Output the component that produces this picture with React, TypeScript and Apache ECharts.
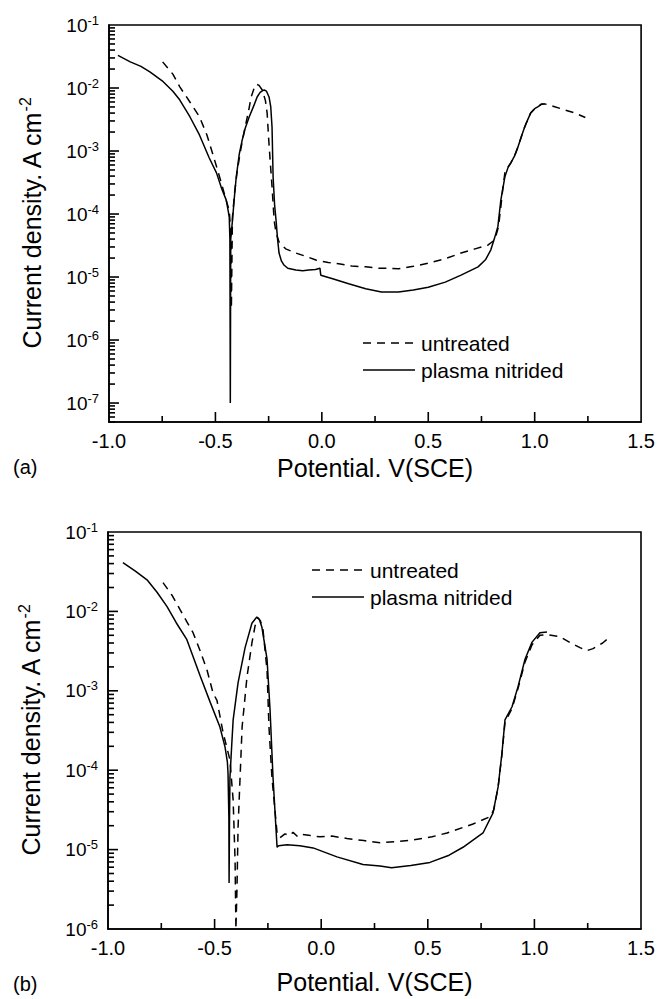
import React, { useEffect, useRef } from "react";
import * as echarts from "echarts";

// ---------- Panel (a) ----------
const aUntreatedE = [-0.748, -0.70, -0.668, -0.62, -0.575, -0.54, -0.514, -0.49, -0.467, -0.45, -0.435, -0.428, -0.425, -0.422, -0.42, -0.41, -0.397, -0.38, -0.364, -0.345, -0.332, -0.318, -0.308, -0.295, -0.28, -0.265, -0.257, -0.25, -0.243, -0.234, -0.224, -0.215, -0.201, -0.17, -0.122, -0.07, -0.028, 0.03, 0.079, 0.14, 0.206, 0.266, 0.30, 0.36, 0.43, 0.5, 0.58, 0.654, 0.72, 0.78, 0.813, 0.83, 0.841, 0.85, 0.86, 0.875, 0.888, 0.905, 0.921, 0.94, 0.953, 0.97, 0.981, 1.0, 1.014, 1.03, 1.047, 1.09, 1.14, 1.19, 1.238];
const aUntreatedI = [2.6e-2, 1.66e-2, 1.05e-2, 6.0e-3, 3.5e-3, 1.8e-3, 9.3e-4, 5.0e-4, 2.7e-4, 1.66e-4, 1.15e-4, 5.0e-5, 3.2e-6, 2.5e-5, 8.9e-5, 2.2e-4, 5.0e-4, 1.1e-3, 2.1e-3, 4.2e-3, 7.2e-3, 1.0e-2, 1.15e-2, 1.1e-2, 9.3e-3, 6.3e-3, 4.0e-3, 1.6e-3, 7.2e-4, 2.7e-4, 7.9e-5, 5.0e-5, 3.6e-5, 2.8e-5, 2.4e-5, 2.1e-5, 1.86e-5, 1.7e-5, 1.62e-5, 1.5e-5, 1.45e-5, 1.38e-5, 1.38e-5, 1.35e-5, 1.48e-5, 1.66e-5, 1.95e-5, 2.4e-5, 2.8e-5, 3.2e-5, 3.9e-5, 6.3e-5, 1.3e-4, 2.5e-4, 4.5e-4, 5.6e-4, 6.5e-4, 8.3e-4, 1.15e-3, 1.8e-3, 2.4e-3, 3.3e-3, 4.0e-3, 4.7e-3, 5.0e-3, 5.5e-3, 5.6e-3, 5.1e-3, 4.5e-3, 4.0e-3, 3.4e-3];

const aNitridedE = [-0.958, -0.9, -0.85, -0.808, -0.75, -0.7, -0.668, -0.62, -0.575, -0.53, -0.495, -0.47, -0.449, -0.44, -0.435, -0.432, -0.43, -0.428, -0.42, -0.41, -0.402, -0.388, -0.374, -0.36, -0.341, -0.32, -0.304, -0.29, -0.278, -0.271, -0.26, -0.248, -0.24, -0.234, -0.229, -0.222, -0.215, -0.208, -0.201, -0.19, -0.178, -0.16, -0.122, -0.09, -0.061, -0.03, -0.009, -0.005, 0.047, 0.126, 0.206, 0.28, 0.36, 0.43, 0.5, 0.58, 0.654, 0.734, 0.77, 0.794, 0.81, 0.827, 0.841, 0.86, 0.875, 0.888, 0.905, 0.921, 0.94, 0.953, 0.97, 0.981, 1.0, 1.014, 1.03, 1.047];
const aNitridedI = [3.3e-2, 2.6e-2, 2.2e-2, 1.8e-2, 1.3e-2, 8.9e-3, 6.5e-3, 3.5e-3, 1.8e-3, 7.9e-4, 4.5e-4, 2.5e-4, 1.66e-4, 1.12e-4, 8.9e-5, 4.0e-5, 1.0e-7, 4.0e-5, 7.9e-5, 2.0e-4, 3.9e-4, 8.9e-4, 1.5e-3, 2.3e-3, 3.5e-3, 5.2e-3, 7.2e-3, 8.5e-3, 9.1e-3, 9.3e-3, 8.9e-3, 7.2e-3, 5.0e-3, 2.4e-3, 3.9e-4, 1.4e-4, 7.9e-5, 4.0e-5, 2.4e-5, 1.8e-5, 1.55e-5, 1.38e-5, 1.29e-5, 1.26e-5, 1.29e-5, 1.32e-5, 1.38e-5, 1.07e-5, 9.5e-6, 7.8e-6, 6.5e-6, 5.8e-6, 5.8e-6, 6.2e-6, 6.9e-6, 8.3e-6, 1.07e-5, 1.45e-5, 1.9e-5, 2.7e-5, 4.0e-5, 6.3e-5, 1.66e-4, 3.9e-4, 5.5e-4, 6.5e-4, 8.3e-4, 1.15e-3, 1.8e-3, 2.4e-3, 3.3e-3, 4.0e-3, 4.7e-3, 5.0e-3, 5.5e-3, 5.6e-3];

// ---------- Panel (b) ----------
const bUntreatedE = [-0.742, -0.70, -0.662, -0.63, -0.601, -0.568, -0.535, -0.507, -0.489, -0.46, -0.428, -0.413, -0.404, -0.40, -0.395, -0.39, -0.371, -0.348, -0.325, -0.31, -0.297, -0.285, -0.273, -0.254, -0.245, -0.231, -0.207, -0.193, -0.17, -0.15, -0.132, -0.11, -0.09, -0.05, -0.006, 0.05, 0.121, 0.2, 0.276, 0.35, 0.431, 0.52, 0.59, 0.712, 0.792, 0.81, 0.83, 0.848, 0.862, 0.895, 0.923, 0.956, 0.989, 1.026, 1.06, 1.12, 1.17, 1.214, 1.245, 1.275, 1.32, 1.355];
const bUntreatedI = [2.3e-2, 1.6e-2, 1.05e-2, 7.4e-3, 5.4e-3, 3.2e-3, 1.8e-3, 9.3e-4, 7.6e-4, 2.95e-4, 1.35e-4, 4.2e-5, 7.4e-6, 1.0e-6, 3.2e-6, 1.9e-5, 3.5e-4, 1.5e-3, 4.0e-3, 6.6e-3, 8.3e-3, 7.6e-3, 5.9e-3, 1.8e-3, 3.5e-4, 8.1e-5, 1.62e-5, 1.41e-5, 1.58e-5, 1.5e-5, 1.65e-5, 1.45e-5, 1.55e-5, 1.5e-5, 1.45e-5, 1.48e-5, 1.38e-5, 1.3e-5, 1.22e-5, 1.26e-5, 1.32e-5, 1.45e-5, 1.62e-5, 2.1e-5, 2.6e-5, 3.2e-5, 6.2e-5, 1.6e-4, 4.0e-4, 6.0e-4, 1.07e-3, 2.3e-3, 3.8e-3, 5.0e-3, 5.1e-3, 4.8e-3, 4.0e-3, 3.5e-3, 3.2e-3, 3.4e-3, 4.0e-3, 4.8e-3];

const bNitridedE = [-0.93, -0.87, -0.817, -0.77, -0.723, -0.68, -0.63, -0.568, -0.52, -0.475, -0.451, -0.44, -0.437, -0.433, -0.432, -0.43, -0.428, -0.42, -0.413, -0.39, -0.357, -0.325, -0.302, -0.29, -0.278, -0.254, -0.24, -0.226, -0.207, -0.2, -0.16, -0.1, -0.038, 0.074, 0.196, 0.276, 0.33, 0.42, 0.51, 0.6, 0.665, 0.759, 0.806, 0.83, 0.848, 0.862, 0.895, 0.923, 0.956, 0.989, 1.026, 1.059];
const bNitridedI = [4.1e-2, 3.2e-2, 2.5e-2, 1.74e-2, 1.15e-2, 7.2e-3, 4.4e-3, 1.55e-3, 7.1e-4, 3.5e-4, 1.95e-4, 1.26e-4, 9.1e-5, 2.5e-5, 3.8e-6, 2.5e-5, 8.1e-5, 2.0e-4, 4.3e-4, 1.26e-3, 3.5e-3, 7.1e-3, 8.5e-3, 7.9e-3, 6.3e-3, 2.5e-3, 5.8e-4, 8.1e-5, 1.07e-5, 1.12e-5, 1.15e-5, 1.12e-5, 1.05e-5, 8.1e-6, 6.5e-6, 6.2e-6, 5.9e-6, 6.3e-6, 6.9e-6, 8.5e-6, 1.07e-5, 1.62e-5, 2.9e-5, 6.2e-5, 1.66e-4, 4.3e-4, 6.3e-4, 1.12e-3, 2.5e-3, 4.1e-3, 5.4e-3, 5.5e-3];

// ---------- Axes / ticks ----------
const aYMin = 5e-8;
const aYMax = 1e-1;
const bYMin = 1e-6;
const bYMax = 1e-1;
const aDecades = [1e-7, 1e-6, 1e-5, 1e-4, 1e-3, 1e-2, 1e-1];
const bDecades = [1e-6, 1e-5, 1e-4, 1e-3, 1e-2, 1e-1];
const minorMultipliers = [2, 3, 4, 5, 6, 7, 8, 9];
const xMin = -1.0;
const xMax = 1.5;
const xInterval = 0.5;
const xMajorTicks = [-0.5, 0.0, 0.5, 1.0];
const xMinorTicks = [-0.75, -0.25, 0.25, 0.75, 1.25];

const legendUntreated = "untreated";
const legendNitrided = "plasma nitrided";
const xTitle = "Potential. V(SCE)";
const yTitle = "Current density. A cm{s|-2}";

const FONT = "'Liberation Sans', Arial, Helvetica, sans-serif";
const BLACK = "#000";
const PANEL_H = 507;
const MAJOR_LEN = 10;
const MINOR_LEN = 6;

function minorTicks(decades: number[], lo: number, hi: number) {
  const out: number[] = [];
  const all = [decades[0] / 10, ...decades];
  for (const d of all) {
    for (const m of minorMultipliers) {
      const v = d * m;
      if (v >= lo && v <= hi) out.push(v);
    }
  }
  return out;
}

function pairs(e: number[], i: number[]) {
  return e.map((x, k) => [x, i[k]]);
}

function yLabelFormatter(v: number) {
  const exp = Math.round(Math.log10(v));
  return `{b|10}{s|${exp}}`;
}

const yRich = {
  b: { fontSize: 19, fontFamily: FONT, color: BLACK },
  s: { fontSize: 13, fontFamily: FONT, color: BLACK, padding: [0, 0, 10, 0] },
};

function makeX(nameGap: number) {
  return {
    type: "value",
    min: xMin,
    max: xMax,
    interval: xInterval,
    axisLine: { show: true, onZero: false, lineStyle: { color: BLACK, width: 1.6 } },
    axisTick: { show: false },
    minorTick: { show: false },
    splitLine: { show: false },
    axisLabel: {
      fontSize: 20,
      color: BLACK,
      margin: 9,
      formatter: (v: number) => v.toFixed(1),
    },
    name: xTitle,
    nameLocation: "middle",
    nameGap,
    nameTextStyle: { fontSize: 25, color: BLACK },
  };
}

function makeY(min: number, max: number, decades: number[], nameGap: number) {
  return {
    type: "log",
    logBase: 10,
    min,
    max,
    position: "left",
    axisLine: { show: true, onZero: false, lineStyle: { color: BLACK, width: 1.6 } },
    axisTick: { show: false },
    axisLabel: {
      customValues: decades,
      formatter: yLabelFormatter,
      rich: yRich,
      margin: 10,
      color: BLACK,
    },
    splitLine: { show: false },
    minorTick: { show: false },
    name: yTitle,
    nameLocation: "middle",
    nameRotate: 90,
    nameGap,
    nameTextStyle: {
      fontSize: 25,
      color: BLACK,
      rich: {
        s: { fontSize: 16, fontFamily: FONT, color: BLACK, padding: [0, 0, 14, 0] },
      },
    },
  };
}

function lineSeries(name: string, data: number[][], dashed: boolean) {
  return {
    name,
    type: "line",
    data,
    showSymbol: false,
    symbol: "none",
    smooth: false,
    lineStyle: { color: BLACK, width: 1.5, type: dashed ? [8, 6] : "solid" },
    z: dashed ? 3 : 4,
  };
}

// Tick marks drawn through the axes' own scales (custom series, api.coord)
function tickSeries(p: any) {
  const data: number[][] = [];
  // [x, y, length, orientation(0 = x-axis tick, 1 = y-axis tick)]
  for (const v of xMajorTicks) data.push([v, p.yMin, MAJOR_LEN, 0]);
  for (const v of xMinorTicks) data.push([v, p.yMin, MINOR_LEN, 0]);
  for (const v of p.decades) if (v > p.yMin && v < p.yMax) data.push([xMin, v, MAJOR_LEN, 1]);
  for (const v of minorTicks(p.decades, p.yMin, p.yMax)) data.push([xMin, v, MINOR_LEN, 1]);
  return {
    type: "custom",
    silent: true,
    z: 6,
    clip: false,
    data,
    encode: { x: 0, y: 1 },
    renderItem: (_params: any, api: any) => {
      const pt = api.coord([api.value(0), api.value(1)]);
      const len = api.value(2);
      const horiz = api.value(3) === 1;
      return {
        type: "line",
        shape: horiz
          ? { x1: pt[0], y1: pt[1], x2: pt[0] + len, y2: pt[1] }
          : { x1: pt[0], y1: pt[1], x2: pt[0], y2: pt[1] - len },
        style: { stroke: BLACK, lineWidth: 1.6 },
      };
    },
  };
}

function legendGraphic(x: number, y1: number, y2: number) {
  return [
    {
      type: "line",
      shape: { x1: x, y1, x2: x + 52, y2: y1 },
      style: { stroke: BLACK, lineWidth: 1.5, lineDash: [8, 6] },
    },
    {
      type: "text",
      x: x + 58,
      y: y1,
      style: { text: legendUntreated, font: `21px ${FONT}`, fill: BLACK, verticalAlign: "middle" },
    },
    {
      type: "line",
      shape: { x1: x, y1: y2, x2: x + 52, y2 },
      style: { stroke: BLACK, lineWidth: 1.5 },
    },
    {
      type: "text",
      x: x + 58,
      y: y2,
      style: { text: legendNitrided, font: `21px ${FONT}`, fill: BLACK, verticalAlign: "middle" },
    },
  ];
}

function panelOption(p: any) {
  return {
    animation: false,
    backgroundColor: "#fff",
    textStyle: { fontFamily: FONT, color: BLACK },
    grid: [{ left: p.left, top: p.top, width: p.width, height: 397, show: true, borderColor: BLACK, borderWidth: 1.6 }],
    xAxis: [makeX(p.xGap)],
    yAxis: [makeY(p.yMin, p.yMax, p.decades, 62)],
    series: [
      lineSeries(legendUntreated, pairs(p.uE, p.uI), true),
      lineSeries(legendNitrided, pairs(p.nE, p.nI), false),
      tickSeries(p),
    ],
    graphic: [
      ...legendGraphic(p.legX, p.legY, p.legY + 27),
      { type: "text", x: 13, y: p.tagY, style: { text: p.tag, font: `20px ${FONT}`, fill: BLACK, verticalAlign: "middle" } },
    ],
  };
}

const panels = [
  { left: 109, top: 25, width: 534, xGap: 31, yMin: aYMin, yMax: aYMax, decades: aDecades, uE: aUntreatedE, uI: aUntreatedI, nE: aNitridedE, nI: aNitridedI, legX: 363, legY: 343, tag: "(a)", tagY: 467 },
  { left: 108, top: 25, width: 533, xGap: 40, yMin: bYMin, yMax: bYMax, decades: bDecades, uE: bUntreatedE, uI: bUntreatedI, nE: bNitridedE, nI: bNitridedI, legX: 312, legY: 63, tag: "(b)", tagY: 477 },
];

function Panel({ p, top }: { p: any; top: number }) {
  const ref = useRef<HTMLDivElement>(null);
  useEffect(() => {
    if (!ref.current) return;
    const chart = echarts.init(ref.current, null, { renderer: "svg" });
    chart.setOption(panelOption(p) as any);
    return () => chart.dispose();
  }, []);
  return <div ref={ref} style={{ position: "absolute", left: 0, top, width: 658, height: PANEL_H }} />;
}

export default function App() {
  return (
    <div style={{ position: "absolute", left: 0, top: 0, width: 658, height: 999, background: "#fff" }}>
      <Panel p={panels[0]} top={0} />
      <Panel p={panels[1]} top={507} />
    </div>
  );
}
